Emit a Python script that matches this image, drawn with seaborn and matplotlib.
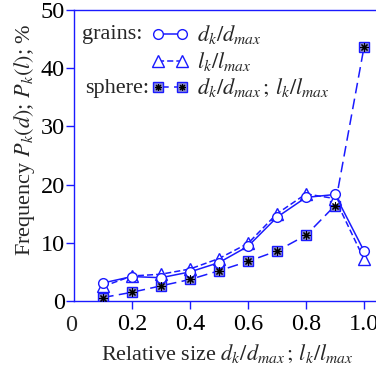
import numpy as np
import pandas as pd
import seaborn as sns
import matplotlib
matplotlib.use("Agg")
import matplotlib.pyplot as plt
from matplotlib.lines import Line2D

x = [0.1, 0.2, 0.3, 0.4, 0.5, 0.6, 0.7, 0.8, 0.9, 1.0]
grains_d = [3.1, 4.2, 4.0, 5.0, 6.6, 9.4, 14.4, 17.8, 18.3, 8.6]
grains_l = [2.5, 4.3, 4.6, 5.5, 7.3, 9.9, 15.0, 18.4, 17.6, 7.2]
sphere = [0.6, 1.5, 2.6, 3.7, 5.2, 6.8, 8.6, 11.3, 16.4, 43.6]
xticks = [0, 0.2, 0.4, 0.6, 0.8, 1.0]
xticklabels = ["0", "0.2", "0.4", "0.6", "0.8", "1.0"]
yticks = [0, 10, 20, 30, 40, 50]

sns.set_style("ticks")
plt.rcParams["font.family"] = ["Liberation Serif", "DejaVu Serif"]
plt.rcParams["mathtext.fontset"] = "stix"

BLUE = "#1a1aff"
FS = 16
TFS = 17.5

df = pd.DataFrame({"x": x, "gd": grains_d, "gl": grains_l, "s": sphere})

fig = plt.figure(figsize=(3.76, 3.72), dpi=100)
ax = fig.add_axes([74 / 376, 71 / 372, 319 / 376, 291 / 372])

sns.lineplot(data=df, x="x", y="s", ax=ax, color=BLUE, lw=1.1,
             linestyle=(0, (7, 3.5)), marker="s", markersize=6.5,
             markerfacecolor="#8c8cd0", markeredgecolor=BLUE, markeredgewidth=1.0)
sns.scatterplot(data=df, x="x", y="s", ax=ax, marker=(8, 2, 0), s=28,
                color="black", linewidth=0.8, zorder=5)
sns.lineplot(data=df, x="x", y="gl", ax=ax, color=BLUE, lw=1.1,
             linestyle=(0, (4, 2)), marker="^", markersize=8.5,
             markerfacecolor="white", markeredgecolor=BLUE, markeredgewidth=1.0)
sns.lineplot(data=df, x="x", y="gd", ax=ax, color=BLUE, lw=1.1,
             linestyle="-", marker="o", markersize=7,
             markerfacecolor="white", markeredgecolor=BLUE, markeredgewidth=1.0)

ax.set_xlim(0, 1.1)
ax.set_ylim(0, 50)
ax.set_xticks(xticks[1:])
ax.set_xticklabels(xticklabels[1:])
ax.set_yticks(yticks)
ax.tick_params(axis="both", labelsize=TFS, colors=BLUE, labelcolor="black",
               length=6, width=1.0, direction="out")
ax.tick_params(axis="x", pad=3)
ax.tick_params(axis="y", pad=0.5)
ax.text(-0.01, -0.048, "0", transform=ax.get_xaxis_transform(), ha="center",
        va="top", fontsize=TFS)
for sp in ax.spines.values():
    sp.set_color(BLUE)
    sp.set_linewidth(1.0)

ax.set_xlabel(r"Relative size $d_k/d_{max}\,;\,l_k/l_{max}$", fontsize=FS)
ax.xaxis.set_label_coords(0.48, -0.145)
ax.set_ylabel(r"Frequency $P_k(d)$; $P_k(l)$; %", fontsize=FS)
ax.yaxis.set_label_coords(-0.115, 0.555)

h1 = Line2D([], [], color=BLUE, lw=1.1, ls="-", marker="o", markersize=7,
            markerfacecolor="white", markeredgecolor=BLUE)
h2 = Line2D([], [], color=BLUE, lw=1.1, ls=(0, (4, 2)), marker="^", markersize=8.5,
            markerfacecolor="white", markeredgecolor=BLUE)
h3a = Line2D([], [], color=BLUE, lw=1.1, ls=(0, (7, 3.5)), marker="s", markersize=6.5,
             markerfacecolor="#8c8cd0", markeredgecolor=BLUE)
h3b = Line2D([], [], color="black", lw=0, marker=(8, 2, 0), markersize=5,
             markeredgewidth=0.8)
leg = ax.legend([h1, h2, (h3a, h3b)],
                [r"$d_k/d_{max}$", r"$l_k/l_{max}$", r"$d_k/d_{max}\,;\,l_k/l_{max}$"],
                loc="upper left", bbox_to_anchor=(0.2, 1.0), frameon=False,
                fontsize=FS, numpoints=2, handlelength=1.7, handletextpad=0.35,
                labelspacing=0.18, borderaxespad=0.2)
ax.text(0.025, 0.915, "grains:", transform=ax.transAxes, fontsize=FS, va="center")
ax.text(0.035, 0.73, "sphere:", transform=ax.transAxes, fontsize=FS, va="center")

fig.savefig("out.png", dpi=100)
